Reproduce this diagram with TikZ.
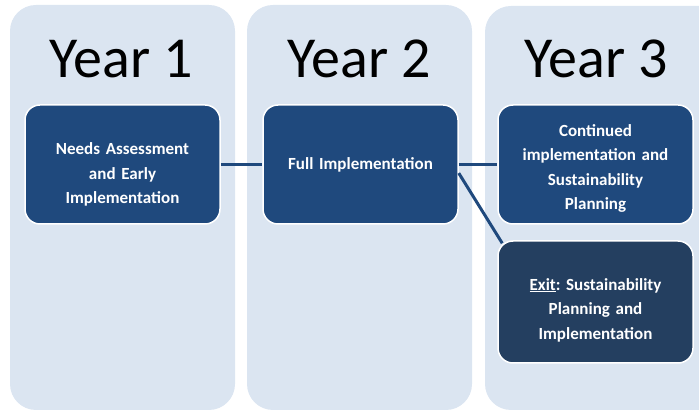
\documentclass[tikz,border=0pt]{standalone}
\usepackage{fontspec}
\setmainfont{Carlito}
\usetikzlibrary{calc}
\frenchspacing
\definecolor{colbg}{RGB}{219,229,241}
\definecolor{boxblue}{RGB}{31,73,125}
\definecolor{boxdark}{RGB}{36,63,96}
\tikzset{
  column/.style={fill=colbg, draw=none, rounded corners=26pt},
  yearlabel/.style={font=\fontsize{58}{62}\selectfont, text=black, inner sep=0pt, anchor=base},
  stagebox/.style={rectangle, rounded corners=15pt, fill=boxblue, draw=white, line width=1.5pt,
    minimum width=195pt, minimum height=119pt, inner sep=0pt},
  stagetext/.style={text width=180pt, align=center, text=white,
    font=\fontsize{17}{24.5}\selectfont\bfseries, inner sep=0pt},
  link/.style={draw=boxblue, line width=3pt}
}
\begin{document}
\begin{tikzpicture}[x=1pt,y=-1pt]
\useasboundingbox (0,0) rectangle (699,411);
\begin{scope}
\clip (0,0) rectangle (699,411);
\path[column] (10,5) rectangle (235,410);
\path[column] (247,5) rectangle (472,410);
\path[column] (485,6) rectangle (725,410);
\end{scope}
\node[yearlabel] (y1) at (121,78) {Year 1};
\node[yearlabel] (y2) at (359,78) {Year 2};
\node[yearlabel] (y3) at (596,78) {Year 3};
\node[stagebox] (b1) at (122.5,164.5) {};
\node[stagebox] (b2) at (360.5,164.5) {};
\node[stagebox] (b3) at (595.5,164.5) {};
\node[stagebox, fill=boxdark, minimum height=122pt] (b4) at (595.5,302) {};
\node[stagetext] (t1) at ($(b1.center)+(0,10)$) {Needs Assessment\\and Early\\Implementation};
\node[stagetext] (t2) at ($(b2.center)+(0,0)$) {Full Implementation};
\node[stagetext] (t3) at ($(b3.center)+(0,4)$) {Continued\\implementation and\\Sustainability\\Planning};
\node[stagetext] (t4) at ($(b4.center)+(0,8)$) {\underline{Exit}: Sustainability\\Planning and\\Implementation};
\draw[link] (b1.east) -- (b2.west);
\draw[link] (b2.east) -- (b3.west);
\draw[link] (b2.-5) -- ($(b4.north west)+(5,3)$);
\end{tikzpicture}
\end{document}
